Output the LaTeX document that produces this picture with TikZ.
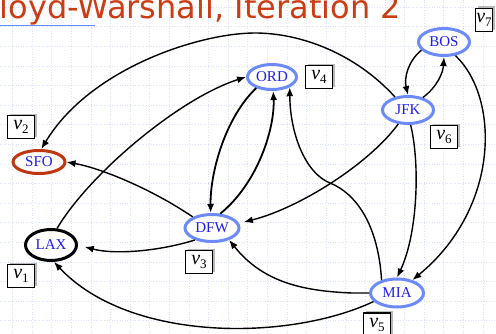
\documentclass[tikz,border=0pt]{standalone}
\usepackage{fontspec}
\setmainfont{Liberation Serif}
\newfontfamily\titlefont{DejaVu Sans}
\usetikzlibrary{shapes.geometric,arrows.meta,shadows}
\definecolor{cityblue}{RGB}{108,138,250}
\definecolor{citytext}{RGB}{30,30,235}
\definecolor{sforange}{RGB}{190,55,15}
\definecolor{titlered}{RGB}{204,60,20}
\definecolor{gridblue}{RGB}{218,225,250}
\newcommand{\vn}[1]{\textit{v}\raisebox{-4pt}{\fontsize{13}{13}\selectfont #1}}
\tikzset{
  city/.style={ellipse, draw=cityblue, line width=3pt, fill=white, text=citytext, inner sep=0pt, minimum width=51pt, minimum height=27pt, font=\fontsize{15}{15}\selectfont},
  vlabel/.style={draw, line width=1.3pt, fill=white, inner sep=0pt, minimum width=27pt, minimum height=23pt, font=\fontsize{20}{20}\selectfont, drop shadow={shadow xshift=2pt, shadow yshift=2pt, fill=gray!55, opacity=1}},
  edge/.style={-{Latex[length=9pt,width=7pt]}, line width=1.4pt},
  gridline/.style={gridblue, dotted, line width=0.6pt}
}
\begin{document}
\begin{tikzpicture}[x=1pt, y=1pt]
\clip (0,0) rectangle (496,333);
\fill[white] (0,0) rectangle (496,333);
\foreach \gx in {0,...,24} \draw[gridline] ({12.5+19.6*\gx},0) -- ++(0,333);
\foreach \gy in {0,...,16} \draw[gridline] (0,{326-19.6*\gy}) -- ++(496,0);
\node[anchor=base west, inner sep=0pt, text=titlered, font=\titlefont\fontsize{32}{32}\selectfont] (title) at (-19,314) {Floyd-Warshall, Iteration 2};
\draw[cityblue, line width=0.8pt] (0,308) -- (95,308);
\node[city] (bos) at (444,291) {BOS};
\node[city] (jfk) at (408,223) {JFK};
\node[city, minimum width=49pt, minimum height=25pt] (ord) at (272,256) {ORD};
\node[city, minimum width=54pt] (dfw) at (212,105) {DFW};
\node[city, draw=sforange, minimum width=52pt, minimum height=23pt] (sfo) at (39,171) {SFO};
\node[city, draw=black, minimum height=31pt] (lax) at (51,88) {LAX};
\node[city, minimum width=53pt, minimum height=28pt] (mia) at (397,40) {MIA};
\node[vlabel, minimum width=17pt] (l7) at (484,313) {\vn{7}};
\node[vlabel] (l6) at (444,196) {\vn{6}};
\node[vlabel] (l4) at (319,256) {\vn{4}};
\node[vlabel] (l3) at (199,71) {\vn{3}};
\node[vlabel] (l2) at (21,206) {\vn{2}};
\node[vlabel] (l1) at (21,57) {\vn{1}};
\node[vlabel] (l5) at (377,8.5) {\vn{5}};
\draw[edge] (bos.200) .. controls (408,272) and (404,255) .. (jfk.north);
\draw[edge] (jfk.40) .. controls (437,246) and (443,260) .. (bos.south);
\draw[edge] (bos.-50) .. controls (500,235) and (500,125) .. (mia.40);
\draw[edge] (jfk.-80) .. controls (420,170) and (418,100) .. (mia.north);
\draw[edge, shorten >=5pt] (jfk.-125) .. controls (370,170) and (300,125) .. (dfw.10);
\draw[edge] (mia.140) .. controls (378,110) and (355,140) .. (330,150) .. controls (305,160) and (290,200) .. (ord.-30);
\draw[edge] (mia.west) -- (352,40) .. controls (300,42) and (262,52) .. (dfw.-35);
\draw[edge] (mia.-160) .. controls (290,-8) and (130,-10) .. (lax.-80);
\draw[edge, shorten >=7pt] (dfw.-145) .. controls (160,82) and (115,78) .. (lax.east);
\draw[edge] (dfw.150) .. controls (150,145) and (100,165) .. (sfo.east);
\draw[edge] (lax.70) .. controls (90,160) and (180,235) .. (ord.west);
\draw[edge] (jfk.135) .. controls (355,280) and (300,300) .. (255,300) .. controls (200,300) and (90,265) .. (sfo.80);
\draw[edge, line width=1.8pt] (ord.-145) .. controls (225,215) and (210,160) .. (dfw.95);
\draw[edge, line width=1.8pt] (dfw.60) .. controls (258,150) and (275,205) .. (ord.-85);
\end{tikzpicture}
\end{document}
